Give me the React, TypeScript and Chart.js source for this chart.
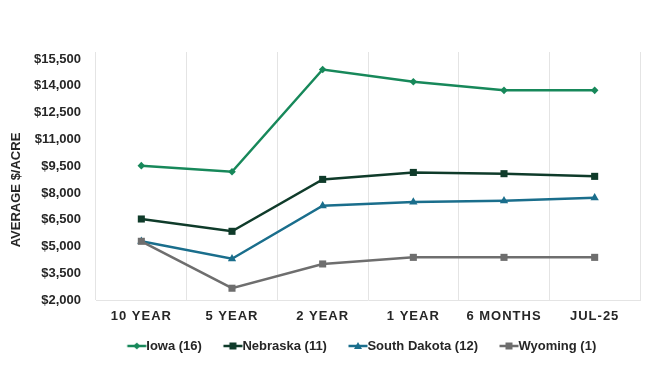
import React, { useEffect, useRef } from "react";
import { Chart, registerables, CategoryScale } from "chart.js";

Chart.register(...registerables);

class SpacedCategoryScale extends CategoryScale {
  static id = "spacedCategory";
  static defaults = (CategoryScale as any).defaults;
  drawLabels(area: any) {
    const ctx = this.ctx as any;
    ctx.save();
    ctx.letterSpacing = "1px";
    super.drawLabels(area);
    ctx.restore();
  }
}
Chart.register(SpacedCategoryScale as any);

const categories = ["10 YEAR", "5 YEAR", "2 YEAR", "1 YEAR", "6 MONTHS", "JUL-25"];
const iowa = [9530, 9190, 14920, 14230, 13750, 13750];
const nebraska = [6540, 5850, 8760, 9150, 9080, 8930];
const southDakota = [5290, 4310, 7280, 7490, 7560, 7730];
const wyoming = [5290, 2660, 4020, 4390, 4390, 4390];
const yTicks = [2000, 3500, 5000, 6500, 8000, 9500, 11000, 12500, 14000, 15500];
const seriesNames = ["Iowa (16)", "Nebraska (11)", "South Dakota (12)", "Wyoming (1)"];
const seriesColors = ["#17885A", "#0F3B2A", "#1A6E8C", "#6E6E6E"];
const seriesMarkers = ["rectRot", "rect", "triangle", "rect"];
const seriesRadius = [3.8, 5, 4.8, 5];
const yTitle = "AVERAGE $/ACRE";

const FONT = "'Liberation Sans', Arial, sans-serif";
const TEXT = "#262626";

function legendImage(color: string, marker: string): HTMLCanvasElement {
  const c = document.createElement("canvas");
  c.width = 40;
  c.height = 10;
  const g = c.getContext("2d")!;
  g.strokeStyle = color;
  g.fillStyle = color;
  g.lineWidth = 2.5;
  g.beginPath();
  g.moveTo(19.5, 5);
  g.lineTo(38.5, 5);
  g.stroke();
  g.beginPath();
  const cx = 29;
  if (marker === "rectRot") {
    g.moveTo(cx, 1.5);
    g.lineTo(cx + 3.5, 5);
    g.lineTo(cx, 8.5);
    g.lineTo(cx - 3.5, 5);
  } else if (marker === "triangle") {
    g.moveTo(cx, 1);
    g.lineTo(cx + 4, 8);
    g.lineTo(cx - 4, 8);
  } else {
    g.rect(cx - 3.5, 1.5, 7, 7);
  }
  g.closePath();
  g.fill();
  return c;
}

export default function App() {
  const ref = useRef<HTMLCanvasElement | null>(null);
  useEffect(() => {
    if (!ref.current) return;
    Chart.defaults.font.family = FONT;
    const values = [iowa, nebraska, southDakota, wyoming];
    const images = seriesColors.map((c, i) => legendImage(c, seriesMarkers[i]));
    const titlePlugin = {
      id: "yTitle",
      afterLayout(chart: any) {
        if (chart.legend) {
          chart.legend.left += 21;
          chart.legend.right += 21;
        }
      },
      afterDraw(chart: any) {
        const ctx = chart.ctx;
        ctx.save();
        ctx.translate(16, 190);
        ctx.rotate(-Math.PI / 2);
        ctx.font = `bold 13px ${FONT}`;
        ctx.fillStyle = TEXT;
        ctx.textAlign = "center";
        ctx.textBaseline = "middle";
        ctx.fillText(yTitle, 0, 0);
        ctx.restore();
      },
    };
    const chart = new Chart(ref.current, {
      type: "line",
      data: {
        labels: categories,
        datasets: values.map((v, i) => ({
          label: seriesNames[i],
          data: v,
          borderColor: seriesColors[i],
          backgroundColor: seriesColors[i],
          borderWidth: 2.5,
          pointStyle: seriesMarkers[i] as any,
          pointRadius: seriesRadius[i],
          pointBorderWidth: 0,
          tension: 0,
          order: i === 3 ? -1 : 0,
        })),
      },
      options: {
        responsive: false,
        animation: false,
        layout: { padding: { left: 30, right: 14, top: 52, bottom: 5.5 } },
        scales: {
          x: {
            type: "spacedCategory" as any,
            offset: true,
            grid: { offset: true, color: "#e4e4e4", drawTicks: false },
            border: { color: "#e4e4e4" },
            afterFit: (s: any) => {
              s.height = 29.5;
            },
            ticks: {
              padding: 9,
              maxRotation: 0,
              autoSkip: false,
              color: TEXT,
              font: { size: 13, weight: "bold" },
            },
          },
          y: {
            min: 2000,
            max: 15900,
            afterBuildTicks: (s: any) => {
              s.ticks = yTicks.map((v) => ({ value: v }));
            },
            afterFit: (s: any) => {
              s.width = 66;
            },
            grid: { display: false, drawTicks: false },
            border: { display: false },
            ticks: {
              padding: 15,
              color: TEXT,
              font: { size: 13, weight: "bold" },
              callback: (v: any) => "$" + Number(v).toLocaleString("en-US"),
            },
          },
        } as any,
        plugins: {
          legend: {
            position: "bottom",
            labels: {
              usePointStyle: true,
              pointStyleWidth: 24,
              padding: 10,
              color: TEXT,
              font: { size: 13, weight: "bold" },
              generateLabels: (ch: any) => {
                const items = (Chart.defaults.plugins.legend.labels as any).generateLabels(ch);
                items.sort((a: any, b: any) => a.datasetIndex - b.datasetIndex);
                return items.map((it: any) => ({ ...it, pointStyle: images[it.datasetIndex] }));
              },
            },
          },
          tooltip: { enabled: false },
        },
      },
      plugins: [titlePlugin],
    });
    return () => chart.destroy();
  }, []);
  return (
    <div style={{ position: "fixed", left: 0, top: 0, width: 654, height: 368, background: "#fff" }}>
      <canvas ref={ref} width={654} height={368} style={{ width: 654, height: 368 }} />
    </div>
  );
}
